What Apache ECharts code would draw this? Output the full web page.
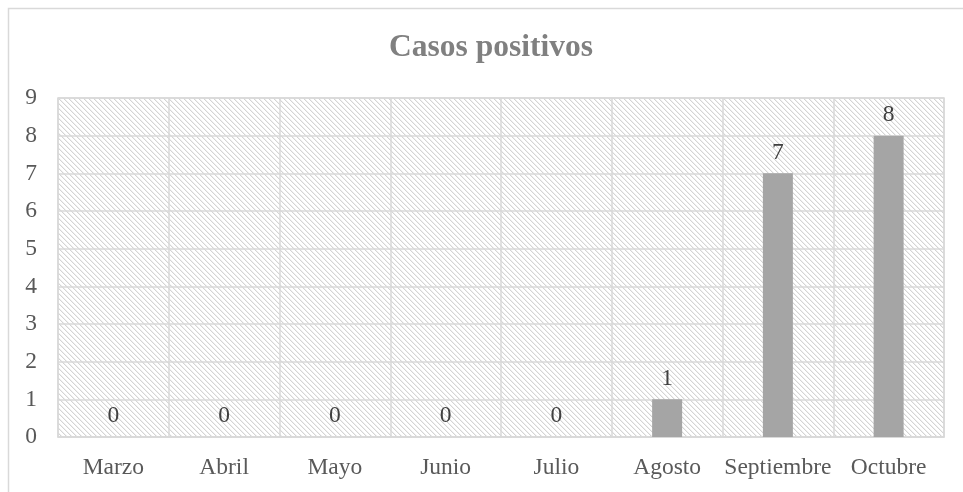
<!DOCTYPE html>
<html>
<head>
<meta charset="utf-8">
<script src="https://cdn.jsdelivr.net/npm/echarts@6/dist/echarts.min.js"></script>
<style>
  html, body { margin: 0; padding: 0; background: #fff; }
  #chart { width: 963px; height: 492px; }
</style>
</head>
<body>
<div id="chart"></div>
<script>
const meses = ["Marzo", "Abril", "Mayo", "Junio", "Julio", "Agosto", "Septiembre", "Octubre"];
const casos = [0, 0, 0, 0, 0, 1, 7, 8];
const tituloTexto = "Casos positivos";

// trama diagonal del fondo
function makeHatch() {
  const size = 10;
  const c = document.createElement("canvas");
  c.width = size;
  c.height = size;
  const ctx = c.getContext("2d");
  const img = ctx.createImageData(size, size);
  for (let y = 0; y < size; y++) {
    for (let x = 0; x < size; x++) {
      const i = (y * size + x) * 4;
      const k = ((x - y) % 5 + 5) % 5;
      let v = 255;
      if (k === 0) v = 212;
      else if (k === 1) v = 240;
      img.data[i] = v;
      img.data[i + 1] = v;
      img.data[i + 2] = v;
      img.data[i + 3] = 255;
    }
  }
  ctx.putImageData(img, 0, 0);
  return c;
}

const fuente = "'Liberation Serif', 'Times New Roman', serif";
const chart = echarts.init(document.getElementById("chart"));

const option = {
  animation: false,
  backgroundColor: "#fff",
  title: {
    text: tituloTexto,
    left: 389,
    top: 32,
    padding: 0,
    textStyle: {
      fontFamily: fuente,
      fontSize: 31.5,
      fontWeight: "bold",
      color: "#808080",
    },
  },
  graphic: [
    {
      type: "rect",
      shape: { x: 8.5, y: 8.5, width: 980, height: 500 },
      style: { fill: "none", stroke: "#d9d9d9", lineWidth: 1.5 },
      silent: true,
    },
  ],
  grid: {
    left: 58,
    right: 19,
    top: 98,
    bottom: 55,
    show: true,
    backgroundColor: { image: makeHatch(), repeat: "repeat" },
    borderColor: "#d9d9d9",
    borderWidth: 1.5,
  },
  xAxis: {
    type: "category",
    data: meses,
    axisTick: { show: false },
    axisLine: { lineStyle: { color: "#d9d9d9", width: 1.5 } },
    splitLine: { show: true, lineStyle: { color: "#d9d9d9", width: 1.5 } },
    axisLabel: {
      interval: 0,
      margin: 19,
      fontFamily: fuente,
      fontSize: 23.5,
      color: "#595959",
    },
  },
  yAxis: {
    type: "value",
    min: 0,
    max: 9,
    interval: 1,
    axisLine: { show: false },
    axisTick: { show: false },
    splitLine: { lineStyle: { color: "#d9d9d9", width: 1.5 } },
    axisLabel: {
      margin: 21,
      fontFamily: fuente,
      fontSize: 23.5,
      color: "#595959",
    },
  },
  series: [
    {
      type: "bar",
      data: casos,
      barWidth: 30,
      itemStyle: { color: "#a5a5a5" },
      label: {
        show: true,
        position: "top",
        distance: 9,
        fontFamily: fuente,
        fontSize: 23.5,
        color: "#404040",
      },
    },
  ],
};

chart.setOption(option);
</script>
</body>
</html>
